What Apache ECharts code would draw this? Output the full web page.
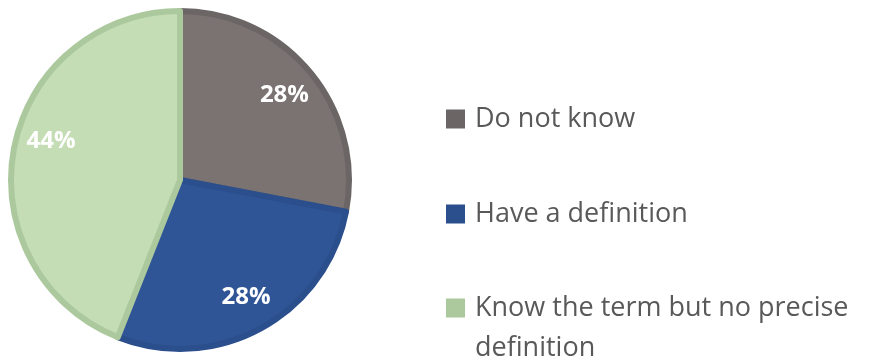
<!DOCTYPE html>
<html>
<head>
<meta charset="utf-8">
<style>
  html, body { margin: 0; padding: 0; background: #ffffff; }
  #chart { width: 872px; height: 361px; }
</style>
<script src="https://cdn.jsdelivr.net/npm/echarts@6/dist/echarts.min.js"></script>
</head>
<body>
<div id="chart"></div>
<script>
// Survey answers: awareness of the term
const categories = ['Do not know', 'Have a definition', 'Know the term but no precise definition'];
const shares = [28, 28, 44];
const legendLabels = ['Do not know', 'Have a definition', 'Know the term but no precise\ndefinition'];

// Per-slice appearance (fill, rim, label nudge from the default inside spot)
const sliceLook = [
  { fill: '#7a7371', rim: '#6b6566', nudge: [37, -29] },
  { fill: '#2f5597', rim: '#2b4e8c', nudge: [24, 40] },
  { fill: '#c5ddb5', rim: '#acc99e', nudge: [-43, -22] }
];
const legendIconY = [119, 214, 308];

const chart = echarts.init(document.getElementById('chart'), null, { renderer: 'canvas' });

const FONT = '"Open Sans", "Liberation Sans", sans-serif';
const LINE = 40;

const pieData = categories.map((name, i) => ({
  name: name,
  value: shares[i],
  itemStyle: { color: sliceLook[i].fill, borderColor: sliceLook[i].rim, borderWidth: 6 },
  label: { offset: sliceLook[i].nudge }
}));

const legends = categories.map((name, i) => {
  const multi = legendLabels[i].indexOf('\n') >= 0;
  // a wrapped label gets a blank leading line so its first line sits level with the icon
  const text = multi ? '\n' + legendLabels[i] : legendLabels[i];
  const lines = text.split('\n').length;
  const top = legendIconY[i] - Math.max(9.5, lines * LINE / 2);
  return {
    data: [{
      name: name,
      icon: 'rect',
      itemStyle: { color: sliceLook[i].rim, borderWidth: 0 }
    }],
    orient: 'vertical',
    left: 446,
    top: top,
    padding: 0,
    itemWidth: 19,
    itemHeight: 19,
    selectedMode: false,
    formatter: () => text,
    textStyle: {
      fontFamily: FONT,
      fontSize: 27,
      color: '#595959',
      lineHeight: LINE,
      padding: [0, 0, 0, 5]
    }
  };
});

chart.setOption({
  animation: false,
  backgroundColor: '#ffffff',
  legend: legends,
  series: [{
    type: 'pie',
    center: [180, 180],
    radius: 169,
    startAngle: 90,
    clockwise: true,
    silent: true,
    label: {
      show: true,
      position: 'inside',
      formatter: '{c}%',
      color: '#ffffff',
      fontFamily: FONT,
      fontWeight: 'bold',
      fontSize: 24
    },
    labelLine: { show: false },
    data: pieData
  }]
});
</script>
</body>
</html>
